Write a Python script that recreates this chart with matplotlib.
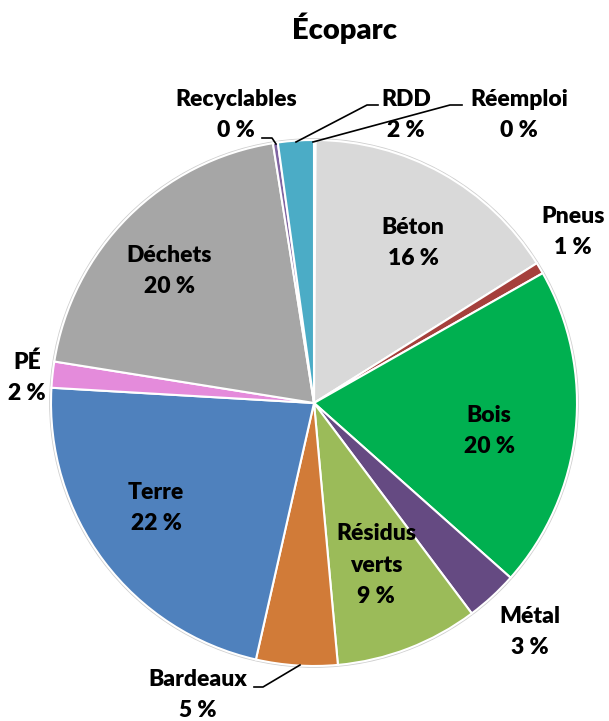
import matplotlib.pyplot as plt
from matplotlib.patches import Circle
from matplotlib.lines import Line2D

plt.rcParams['font.family'] = ['Lato', 'DejaVu Sans']

categories = ['Réemploi', 'Béton', 'Pneus', 'Bois', 'Métal', 'Résidus\nverts', 'Bardeaux',
              'Terre', 'PÉ', 'Déchets', 'Recyclables', 'RDD']
values = [0.1, 16.0, 0.7, 19.8, 3.2, 8.8, 5.0, 22.4, 1.6, 20.0, 0.3, 2.2]
colors = ['#F2F2F2', '#D9D9D9', '#A5403C', '#00B050', '#654A82', '#9BBB59', '#D17B38',
          '#4F81BD', '#E48BDB', '#A6A6A6', '#8064A2', '#4BACC6']

# label centres in pixel coords (x, y from top)
label_pos = [(519, 115), (413, 243), (573, 232), (489, 431), (530, 632), (376, 565),
             (198, 695), (156, 508), (27, 378), (169, 271), (236, 115), (406, 115)]

W, H = 609, 721
fig = plt.figure(figsize=(W / 100, H / 100), dpi=100)
cx, cy, r = 314, 403, 263
ax = fig.add_axes([(cx - r) / W, (H - cy - r) / H, 2 * r / W, 2 * r / H])

ax.add_patch(Circle((0, 0), 1.007, facecolor='#cfcfcf', edgecolor='none',
                    zorder=0, clip_on=False))
ax.pie(values, colors=colors, startangle=90, counterclock=False, radius=1,
       wedgeprops=dict(edgecolor='white', linewidth=1.5, clip_on=False))
ax.set_xlim(-1, 1)
ax.set_ylim(-1, 1)
ax.set_aspect('equal')
ax.axis('off')

total = sum(values)
for name, v, (px, py) in zip(categories, values, label_pos):
    fig.text(px / W, 1 - py / H, f'{name}\n{round(v / total * 100):.0f} %',
             ha='center', va='center', fontsize=16.5, fontweight='heavy',
             color='black', linespacing=1.6)

fig.text(345 / W, 1 - 28 / H, 'Écoparc', ha='center', va='center',
         fontsize=21, fontweight='heavy')

# leader lines
leaders = [
    [(262, 138), (272, 138), (276, 144)],
    [(296, 142), (367, 105), (378, 105)],
    [(313, 142), (450, 105), (462, 105)],
    [(300, 665), (263, 687), (254, 687)],
]
for pts in leaders:
    xs = [p[0] / W for p in pts]
    ys = [1 - p[1] / H for p in pts]
    fig.add_artist(Line2D(xs, ys, color='black', linewidth=1.2))

fig.savefig('out.png', dpi=100)
